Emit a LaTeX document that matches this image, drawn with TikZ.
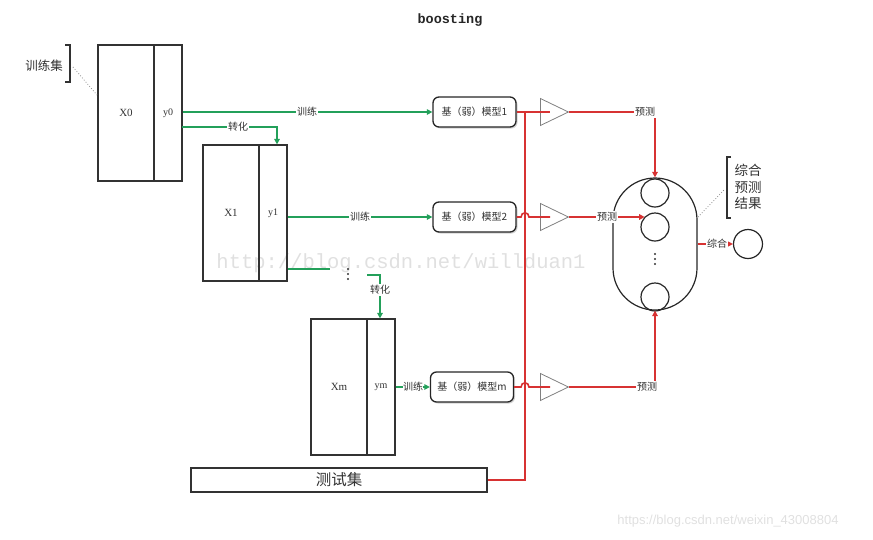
\documentclass[tikz,border=0pt]{standalone}
\usepackage{fontspec}
\setmainfont{Liberation Serif}
\newfontfamily\cjk{Noto Sans CJK SC}
\newfontfamily\monob{Liberation Mono}
\newfontfamily\wmsans{Liberation Sans}
\usetikzlibrary{arrows.meta,shadows,shapes.geometric}
\definecolor{grn}{RGB}{35,160,90}
\definecolor{rd}{RGB}{215,50,50}
\definecolor{ink}{RGB}{50,50,50}
\tikzset{
  box/.style={draw=ink, line width=1.2pt, inner sep=0pt, text=ink, font=\fontsize{11}{13}\selectfont},
  model/.style={draw=black!85, line width=1.3pt, rounded corners=6pt, minimum width=83pt, minimum height=30pt,
    fill=white, drop shadow={opacity=0.35, shadow xshift=1.5pt, shadow yshift=-1.5pt}, text=ink,
    font=\cjk\fontsize{10}{12}\selectfont, inner sep=1pt},
  amp/.style={isosceles triangle, isosceles triangle stretches, draw=black!50, line width=0.8pt,
    minimum width=27pt, minimum height=28pt, inner sep=0pt, anchor=west},
  gline/.style={draw=grn, line width=1.6pt},
  rline/.style={draw=rd, line width=1.6pt},
  arr/.style={-{Triangle[length=5.5pt,width=5.5pt]}},
  lab/.style={fill=white, inner sep=1pt, text=ink, font=\cjk\fontsize{10}{12}\selectfont},
  sc/.style={circle, draw=black!85, line width=1.2pt, minimum size=28pt, inner sep=0pt},
  brk/.style={draw=ink, line width=1.3pt},
  dots/.style={draw=black!45, dotted, line width=0.8pt},
  dot/.style={circle, fill=ink, minimum size=2.2pt, inner sep=0pt},
}
\begin{document}
\begin{tikzpicture}[x=1pt,y=-1pt]
\useasboundingbox (0,0) rectangle (873,539);

% title
\node[text=black!85] (title) at (450,20) {\monob\bfseries\fontsize{13.5}{15}\selectfont boosting};

% watermarks
\node[text=black!12] (wm1) at (401,263) {\monob\fontsize{20.5}{22}\selectfont http://blog.csdn.net/willduan1};
\node[text=black!12] (wm2) at (728,521) {\wmsans\fontsize{13}{15}\selectfont https://blog.csdn.net/weixin\_43008804};

% training set
\node[box, minimum width=56pt, minimum height=136pt] (X0) at (126,113) {X0};
\node[box, minimum width=28pt, minimum height=136pt, font=\fontsize{10}{12}\selectfont] (y0) at (168,113) {y0};
\node[box, minimum width=56pt, minimum height=136pt] (X1) at (231,213) {X1};
\node[box, minimum width=28pt, minimum height=136pt, font=\fontsize{10}{12}\selectfont] (y1) at (273,213) {y1};
\node[box, minimum width=56pt, minimum height=136pt] (Xm) at (339,387) {Xm};
\node[box, minimum width=28pt, minimum height=136pt, font=\fontsize{10}{12}\selectfont] (ym) at (381,387) {ym};

% training-set bracket
\node[text=ink, font=\cjk\fontsize{12.5}{14}\selectfont] (trs) at (44,66) {训练集};
\coordinate (b1a) at (65,45);
\coordinate (b1b) at (70,45);
\coordinate (b1c) at (70,82);
\coordinate (b1d) at (65,82);
\draw[brk] (b1a) -- (b1b) -- (b1c) -- (b1d);
\coordinate (d1a) at (73,67);
\coordinate (d1b) at (97,95);
\draw[dots] (d1a) -- (d1b);

% models
\node[model] (m1) at (474.5,112) {基（弱）模型1};
\node[model] (m2) at (474.5,217) {基（弱）模型2};
\node[model] (mm) at (472,387) {基（弱）模型m};

% test set
\node[box, minimum width=296pt, minimum height=24pt, font=\cjk\fontsize{15.5}{17}\selectfont] (test) at (339,480) {测试集};

% green training / transform lines
\draw[gline, arr] (m1.west -| y0.east) -- (m1.west);
\node[lab] (L1) at (307,112) {训练};

\coordinate (t1) at (182,127);
\draw[gline, arr] (t1) -| ([xshift=4pt]y1.north);
\node[lab] (T1) at (238,127) {转化};

\draw[gline, arr] (m2.west -| y1.east) -- (m2.west);
\node[lab] (L2) at (360,217) {训练};

\coordinate (g2) at (330,269);
\draw[gline] (g2 -| y1.east) -- (g2);
\node[dot] (vd1) at (348,269) {};
\node[dot] (vd2) at (348,274) {};
\node[dot] (vd3) at (348,279) {};
\coordinate (t2) at (367,275);
\draw[gline, arr] (t2) -| ([xshift=-1pt]ym.north);
\node[lab] (T2) at (380,290) {转化};

\draw[gline, arr] (ym.east) -- (mm.west);
\node[lab, inner sep=0.3pt] (L3) at (413,387) {训练};

% amplifiers
\node[amp] (tr1) at (540,112) {};
\node[amp] (tr2) at (540,217) {};
\node[amp] (trm) at (540,387) {};

% red test-set feed
\coordinate (J) at (525,112);
\draw[rline] (test.east) -| (J);
\draw[rline] (m1.east) -- ([xshift=10pt]tr1.west);
\coordinate (j2a) at (521,217);
\coordinate (j2b) at (529,217);
\draw[rline] (m2.east) -- (j2a) .. controls (521,211.5) and (529,211.5) .. (j2b) -- ([xshift=10pt]tr2.west);
\coordinate (jma) at (521,387);
\coordinate (jmb) at (529,387);
\draw[rline] (mm.east |- jma) -- (jma) .. controls (521,381.5) and (529,381.5) .. (jmb) -- ([xshift=10pt]trm.west);

% ensemble
\node[draw=black!85, line width=1.2pt, rounded corners=42pt, minimum width=84pt, minimum height=132pt, inner sep=0pt] (cap) at (655,244) {};
\node[sc] (c1) at (655,193) {};
\node[sc] (c2) at (655,227) {};
\node[sc] (c3) at (655,297) {};
\node[dot] (cd1) at (655,254) {};
\node[dot] (cd2) at (655,259) {};
\node[dot] (cd3) at (655,264) {};
\node[sc, minimum size=29pt] (res) at (748,244) {};

% predictions
\draw[rline, arr] (tr1.east) -| (cap.north);
\node[lab] (P1) at (645,112) {预测};
\draw[rline, arr] (tr2.east) -- (tr2.east -| c2.135);
\node[lab] (P2) at (607,217) {预测};
\draw[rline, arr] (trm.east) -| (cap.south);
\node[lab] (P3) at (647,387) {预测};
\draw[rline, arr] (cap.east) -- (res.west);
\node[lab] (P4) at (717,244) {综合};

% result bracket
\coordinate (b2a) at (731,157);
\coordinate (b2b) at (727,157);
\coordinate (b2c) at (727,218);
\coordinate (b2d) at (731,218);
\draw[brk] (b2a) -- (b2b) -- (b2c) -- (b2d);
\node[text=ink, align=center, font=\cjk\fontsize{13.5}{16.5}\selectfont] (rtxt) at (748,187) {综合\\预测\\结果};
\coordinate (d2a) at (698,217);
\coordinate (d2b) at (724,190);
\draw[dots] (d2a) -- (d2b);
\end{tikzpicture}
\end{document}
